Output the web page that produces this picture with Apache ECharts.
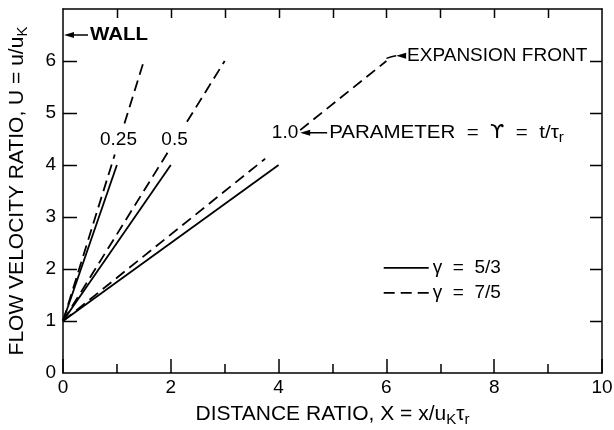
<!DOCTYPE html>
<html><head><meta charset="utf-8">
<script src="https://cdn.jsdelivr.net/npm/echarts@6/dist/echarts.min.js"></script>
<style>html,body{margin:0;padding:0;background:#fff}#c{width:614px;height:430px}</style>
</head><body><div id="c"></div>
<script>
// ---- data ----
const xRange = [0, 10];
const yRange = [0, 7];
const yTickValues = [1, 2, 3, 4, 5, 6];           // ticks on left and right frame
const topTickValues = [1, 2, 3, 4, 5, 6, 7, 8, 9]; // ticks on top frame
// gamma = 5/3 (solid): expansion-front endpoints for tau = 0.25, 0.5, 1.0
const solid025 = [[0, 1], [1, 4]];
const solid05  = [[0, 1], [2, 4]];
const solid10  = [[0, 1], [4, 4]];
// gamma = 7/5 (dashed): split where the labels interrupt the line
const dashed025a = [[0, 1], [0.96, 4.2]];
const dashed025b = [[1.14, 4.8], [1.5, 6]];
const dashed05a  = [[0, 1], [1.99, 4.32]];
const dashed05b  = [[2.3, 4.83], [3, 6]];
const dashed10a  = [[0, 1], [3.75, 4.12]];
const dashed10b  = [[4.4, 4.67], [6, 6]];
const tauLabels = [['0.25', 1.03, 4.49], ['0.5', 2.07, 4.49], ['1.0', 4.12, 4.62]];
const legendNames = ['γ  =  5/3', 'γ  =  7/5'];

const FONT = '"Liberation Sans", Arial, sans-serif';
const chart = echarts.init(document.getElementById('c'), null, {renderer: 'canvas'});

function solid(d) {
  return {type: 'line', name: legendNames[0], data: d, symbol: 'none', silent: true,
    lineStyle: {color: '#000', width: 1.8, type: 'solid'}, itemStyle: {color: '#000'}, z: 3};
}
function dashed(d) {
  return {type: 'line', name: legendNames[1], data: d, symbol: 'none', silent: true,
    lineStyle: {color: '#000', width: 1.8, type: [11, 6]}, itemStyle: {color: '#000'}, z: 3};
}

const tickSt = () => ({color: '#000', width: 1.5, type: 'solid'});
chart.setOption({
  backgroundColor: '#fff',
  animation: false,
  grid: {left: 63, right: 12, top: 9, bottom: 57, containLabel: false, outerBoundsMode: 'none'},
  xAxis: [{
    type: 'value', min: xRange[0], max: xRange[1], interval: 2, position: 'bottom',
    axisLine: {show: true, onZero: false, lineStyle: tickSt()}, splitLine: {show: false},
    axisTick: {show: true, inside: true, length: 14, lineStyle: tickSt()},
    minorTick: {show: true, splitNumber: 2, length: 9, lineStyle: tickSt()},
    axisLabel: {show: true, color: '#000', fontFamily: FONT, fontSize: 19, margin: 5},
    name: '{a|DISTANCE RATIO, X = x/u}{s|K}{a|τ}{s|r}', nameLocation: 'middle', nameGap: 29,
    nameTextStyle: {rich: {a: {fontFamily: FONT, fontSize: 21, color: '#000'},
      s: {fontFamily: FONT, fontSize: 15, color: '#000', padding: [10, 0, 0, 0]}}}
  }, {
    type: 'value', min: xRange[0], max: xRange[1], interval: 1, position: 'top',
    axisLine: {show: true, onZero: false, lineStyle: tickSt()}, splitLine: {show: false},
    axisTick: {show: false}, axisLabel: {show: false}
  }],
  yAxis: [{
    type: 'value', min: yRange[0], max: yRange[1], interval: 1, position: 'left',
    axisLine: {show: true, onZero: false, lineStyle: tickSt()}, splitLine: {show: false},
    axisTick: {show: false},
    axisLabel: {show: true, color: '#000', fontFamily: FONT, fontSize: 19, margin: 7,
      formatter: v => (v === 7 ? '' : String(v))},
    name: '{a|FLOW VELOCITY RATIO, U = u/u}{s|K}', nameLocation: 'middle', nameGap: 33, nameRotate: 90,
    nameTextStyle: {rich: {a: {fontFamily: FONT, fontSize: 21, color: '#000'},
      s: {fontFamily: FONT, fontSize: 15, color: '#000', padding: [10, 0, 0, 0]}}}
  }, {
    type: 'value', min: yRange[0], max: yRange[1], interval: 1, position: 'right',
    axisLine: {show: true, onZero: false, lineStyle: tickSt()}, splitLine: {show: false},
    axisTick: {show: false}, axisLabel: {show: false}
  }],
  series: [
    solid(solid025), solid(solid05), solid(solid10),
    dashed(dashed025a), dashed(dashed025b), dashed(dashed05a), dashed(dashed05b),
    dashed(dashed10a), dashed(dashed10b)
  ]
});

// ---- annotations positioned from data coordinates ----
const P = (x, y) => chart.convertToPixel({xAxisIndex: 0, yAxisIndex: 0}, [x, y]);
const g = [];
// inward frame ticks (left, right, top) placed through the axis scales, on their own top layer
const tick = (a, b) => g.push({type: 'line', zlevel: 1, z: 100,
  shape: {x1: Math.round(a[0]), y1: Math.round(a[1]) + 0.5, x2: Math.round(b[0]), y2: Math.round(b[1]) + 0.5},
  style: {stroke: '#000', lineWidth: 1.5, opacity: 1}});
const tickV = (a, b) => g.push({type: 'line', zlevel: 1, z: 100,
  shape: {x1: Math.round(a[0]) + 0.5, y1: Math.round(a[1]), x2: Math.round(b[0]) + 0.5, y2: Math.round(b[1])},
  style: {stroke: '#000', lineWidth: 1.5, opacity: 1}});
yTickValues.forEach(v => {
  const l = P(xRange[0], v), r = P(xRange[1], v);
  tick(l, [l[0] + 14, l[1]]);
  tick(r, [r[0] - 12, r[1]]);
});
topTickValues.forEach(v => {
  const t = P(v, yRange[1]);
  tickV(t, [t[0], t[1] + 9]);
});
const arrowLeft = (x0, x1, y) => {
  g.push({type: 'line', z: 10, shape: {x1: x0 + 8, y1: y, x2: x1, y2: y}, style: {stroke: '#000', lineWidth: 1.5}});
  g.push({type: 'polygon', z: 10, shape: {points: [[x0, y], [x0 + 10, y - 3], [x0 + 10, y + 3]]}, style: {fill: '#000'}});
};
const text = (s, x, y, font, sx, rich) => g.push({
  type: 'text', z: 10, x: x, y: y, scaleX: sx || 1, originX: 0, originY: 0,
  style: Object.assign({text: s, x: 0, y: 0, fill: '#000', font: font, align: 'left', verticalAlign: 'middle'},
    rich ? {rich: rich} : {})
});
tauLabels.forEach(t => {
  const p = P(t[1], t[2]);
  g.push({type: 'text', z: 10, style: {text: t[0], x: p[0], y: p[1], fill: '#000', font: '19px ' + FONT,
    align: 'center', verticalAlign: 'middle'}});
});
// WALL
const w = P(0, 6.5);
arrowLeft(w[0] + 1, w[0] + 25, w[1]);
text('WALL', w[0] + 27, w[1], 'bold 19px ' + FONT, 1.08);
// PARAMETER
const pm = P(4.4, 4.62);
arrowLeft(pm[0], pm[0] + 27, pm[1]);
const SYM = '"DejaVu Sans", ' + FONT;
text('{a|PARAMETER  =  }{u|ϒ}{a|  =  t/τ}{s|r}', pm[0] + 29, pm[1], '19px ' + FONT, 1.08,
  {a: {font: '19px ' + FONT, fill: '#000'}, u: {font: '19px ' + SYM, fill: '#000'},
   s: {font: '14px ' + FONT, fill: '#000', padding: [10, 0, 0, 0]}});
// EXPANSION FRONT
const ef = P(6, 6.05);
const ea = P(6.18, 6.1);
g.push({type: 'polyline', z: 10, shape: {points: [ef, [ef[0] + 5, ea[1] + 1], [ea[0], ea[1]]]},
  style: {stroke: '#000', lineWidth: 1.5, fill: null}});
g.push({type: 'polygon', z: 10, shape: {points: [[ea[0], ea[1]], [ea[0] + 10, ea[1] - 3], [ea[0] + 10, ea[1] + 3]]}, style: {fill: '#000'}});
text('EXPANSION FRONT', ea[0] + 11, ea[1], '19px ' + FONT, 1.0);
// legend (line samples + labels)
const lg = [[legendNames[0], 'solid', 5.95, 2.02], [legendNames[1], 'dashed', 5.95, 1.54]];
lg.forEach(l => {
  const p = P(l[2], l[3]);
  const st = {stroke: '#000', lineWidth: 1.8};
  if (l[1] === 'dashed') st.lineDash = [11, 6];
  g.push({type: 'line', z: 10, shape: {x1: p[0], y1: p[1], x2: p[0] + 45, y2: p[1]}, style: st});
  text(l[0], p[0] + 49, p[1], '19px ' + FONT, 1.0);
});
chart.setOption({graphic: g});
</script></body></html>
